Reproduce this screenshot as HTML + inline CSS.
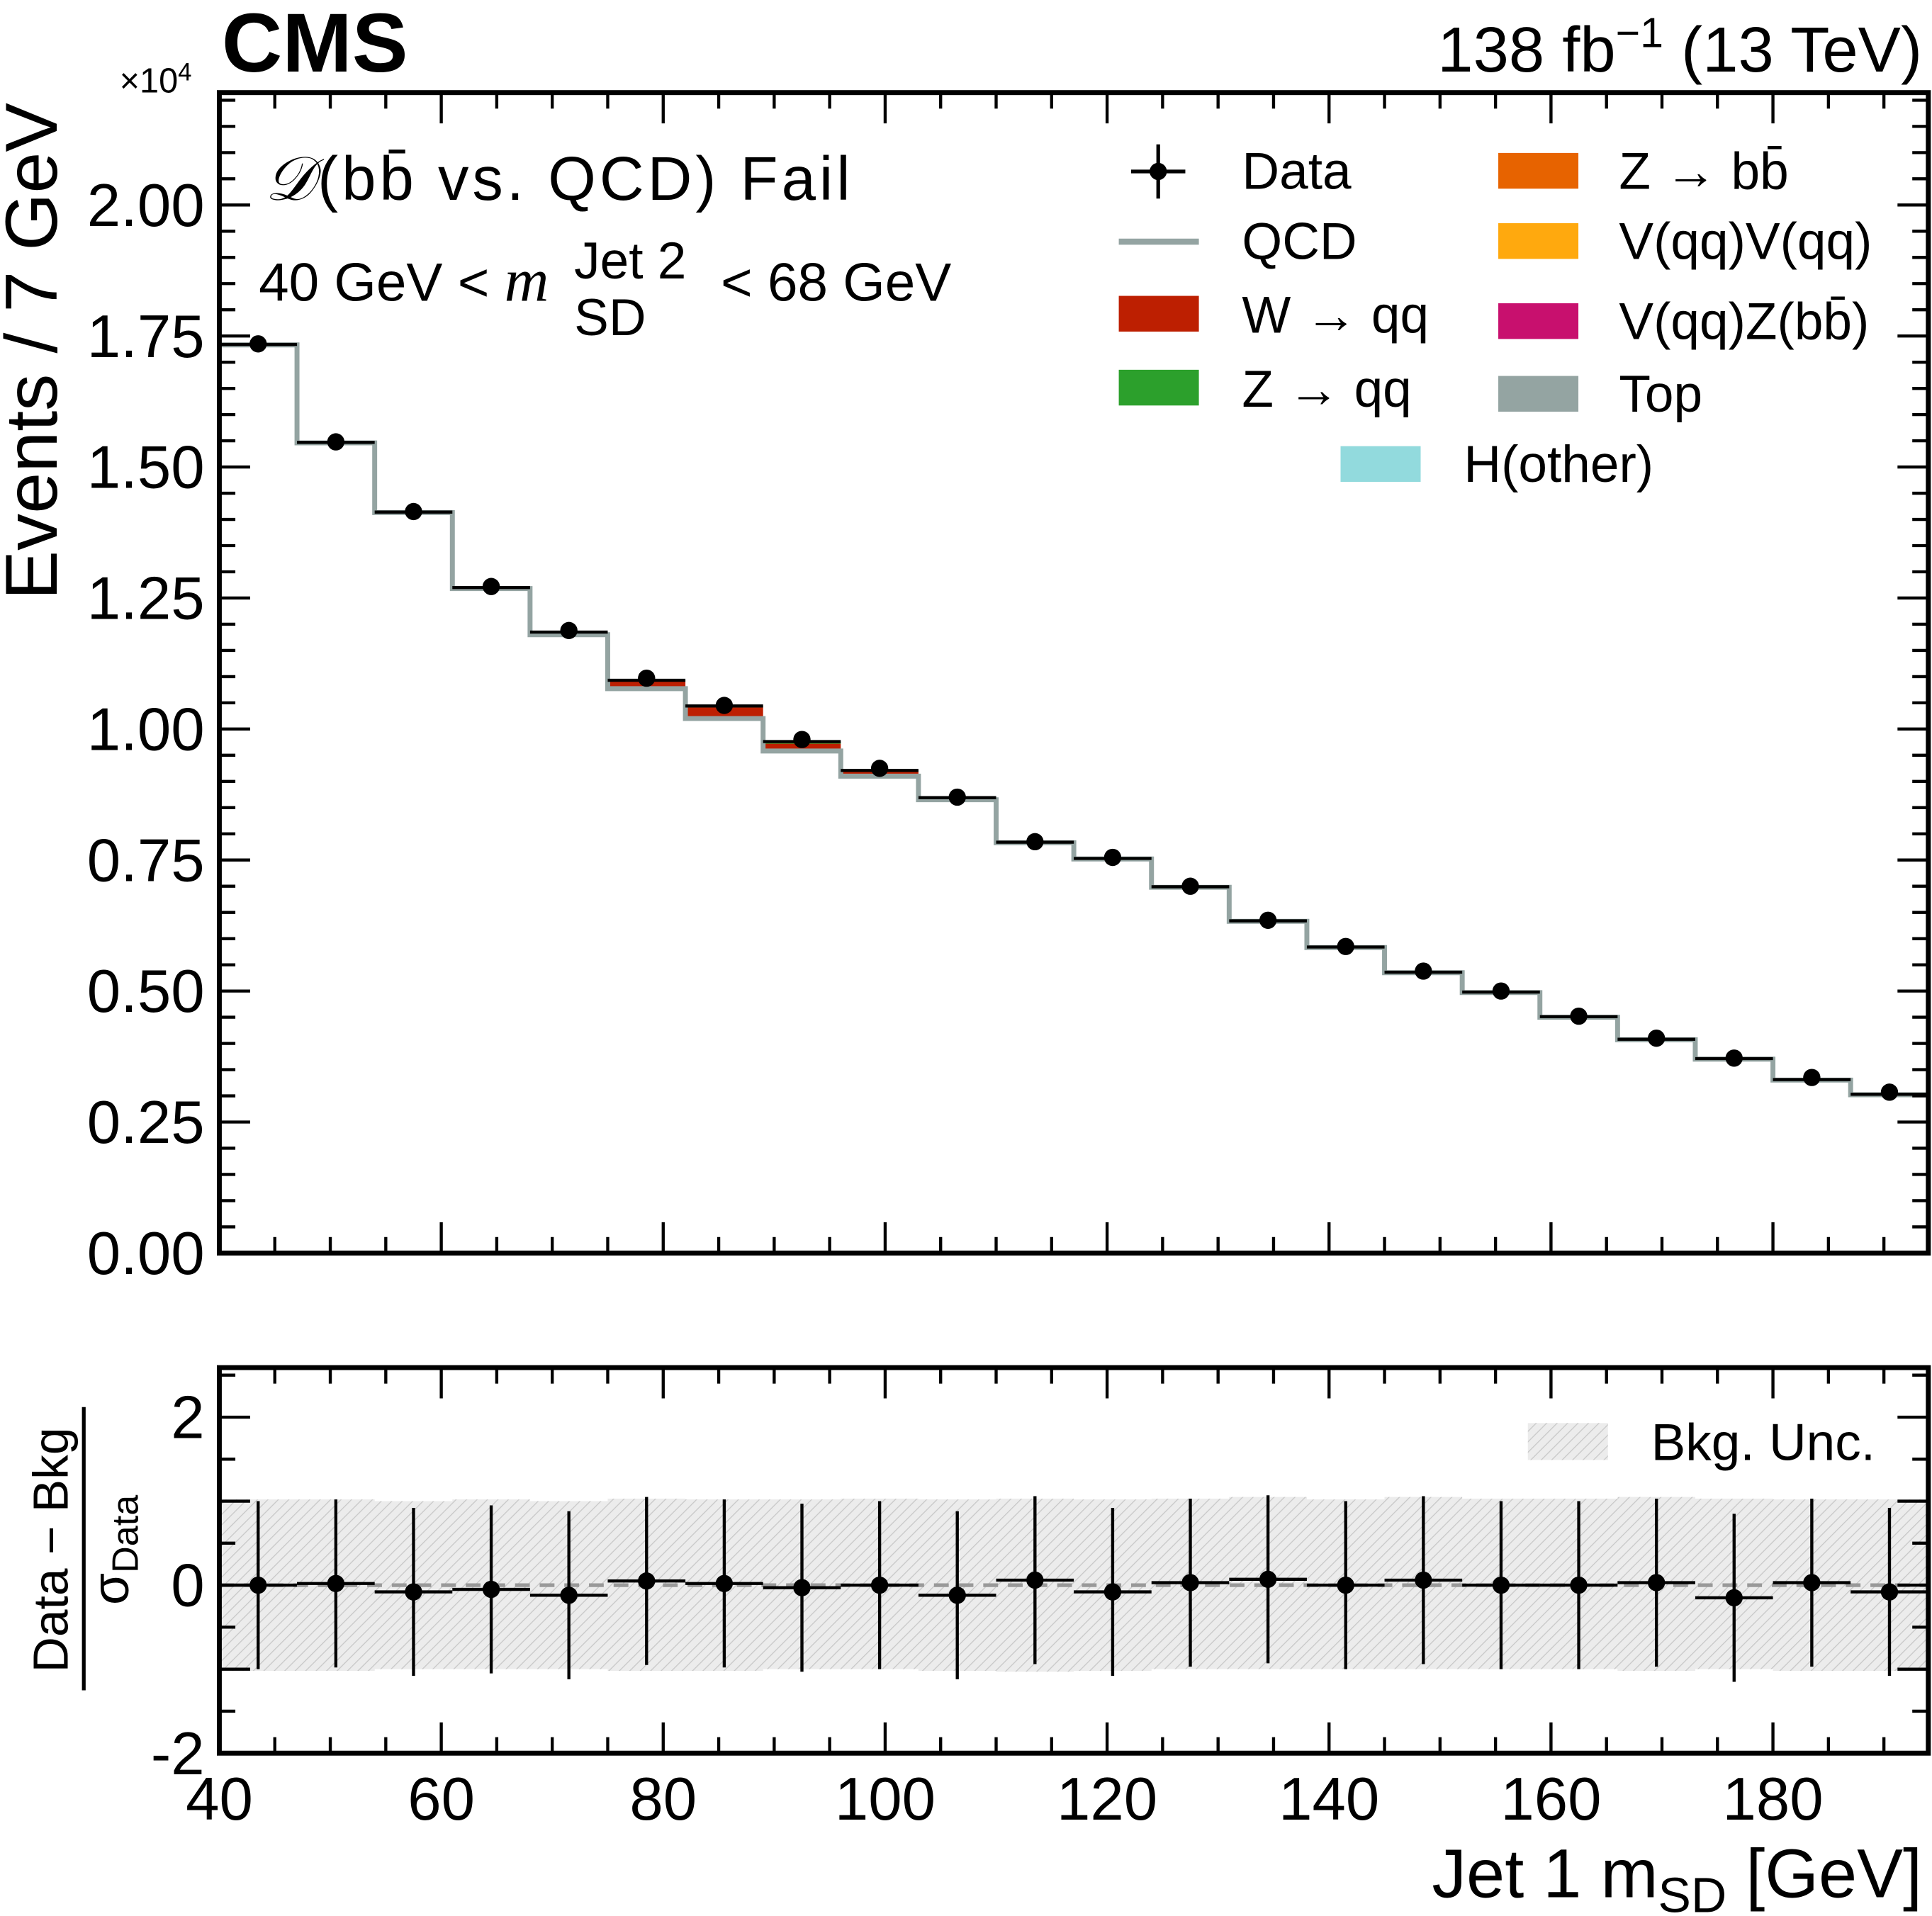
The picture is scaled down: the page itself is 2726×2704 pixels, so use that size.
<!DOCTYPE html>
<html><head><meta charset="utf-8"><style>
html,body{margin:0;padding:0;background:#fff}
svg{display:block;font-family:"Liberation Sans",sans-serif}
</style></head><body>
<svg id="chart" width="2726" height="2704" viewBox="0 0 1568 1555" xmlns="http://www.w3.org/2000/svg">
<defs>
<pattern id="hatch" patternUnits="userSpaceOnUse" width="6" height="6" patternTransform="rotate(45)">
<rect width="6" height="6" fill="#ececec"/><line x1="0" y1="0" x2="0" y2="6" stroke="#c8c8c8" stroke-width="1.5"/>
</pattern>
</defs>
<g id="main"></g>
<g id="ratio"></g>
<g id="txt">
<text x="180" y="58" font-size="68" font-weight="bold">CMS</text>
<text x="1560" y="58" font-size="52" text-anchor="end">138 fb<tspan font-size="34" dy="-20">−1</tspan><tspan dy="20"> (13 TeV)</tspan></text>
<text x="97" y="75" font-size="28">×10<tspan font-size="20" dy="-10">4</tspan></text>
<text x="215" y="162" font-size="50" textLength="475"><tspan font-family="Liberation Serif" font-style="italic">𝒟</tspan>(bb̄ vs. QCD) Fail</text>
<text x="210" y="244" font-size="44">40 GeV &lt; <tspan font-family="Liberation Serif" font-style="italic" font-size="50">m</tspan></text>
<text x="466" y="226" font-size="42">Jet 2</text>
<text x="466" y="272" font-size="42">SD</text>
<text x="585" y="244" font-size="44">&lt; 68 GeV</text>
<text transform="translate(46,285) rotate(-90)" font-size="60" text-anchor="middle">Events / 7 GeV</text>
<text x="1560" y="1540" font-size="56" text-anchor="end">Jet 1 m<tspan font-size="40" dy="12">SD</tspan><tspan dy="-12"> [GeV]</tspan></text>
<g>
<text transform="translate(55,1258) rotate(-90)" font-size="40" text-anchor="middle">Data − Bkg</text>
<line x1="68" y1="1142" x2="68" y2="1372" stroke="#000" stroke-width="3"/>
<text transform="translate(104,1258) rotate(-90)" font-size="42" text-anchor="middle">σ<tspan font-size="30" dy="8">Data</tspan></text>
</g>
</g>
<g id="legend">
<g><line x1="918" y1="139" x2="962" y2="139" stroke="#000" stroke-width="3"/><line x1="940" y1="117" x2="940" y2="161" stroke="#000" stroke-width="3"/><circle cx="940" cy="139" r="7"/><text x="1008" y="153" font-size="42">Data</text></g>
<g><line x1="908" y1="196" x2="973" y2="196" stroke="#94a4a2" stroke-width="5"/><text x="1008" y="210" font-size="42">QCD</text></g>
<g><rect x="908" y="240" width="65" height="29" fill="#bd1f01"/><text x="1008" y="270" font-size="42">W → qq</text></g>
<g><rect x="908" y="300" width="65" height="29" fill="#2ca02c"/><text x="1008" y="330" font-size="42">Z → qq</text></g>
<g><rect x="1216" y="124" width="65" height="29" fill="#e76300"/><text x="1314" y="153" font-size="42">Z → bb̄</text></g>
<g><rect x="1216" y="181" width="65" height="29" fill="#ffa90e"/><text x="1314" y="210" font-size="42">V(qq)V(qq)</text></g>
<g><rect x="1216" y="246" width="65" height="29" fill="#c8106e"/><text x="1314" y="275" font-size="42">V(qq)Z(bb̄)</text></g>
<g><rect x="1216" y="305" width="65" height="29" fill="#94a4a2"/><text x="1314" y="334" font-size="42">Top</text></g>
<g><rect x="1088" y="362" width="65" height="29" fill="#92dadd"/><text x="1188" y="391" font-size="42">H(other)</text></g>
<g><rect x="1240" y="1155" width="65" height="30" fill="url(#hatch)"/><text x="1340" y="1185" font-size="42">Bkg. Unc.</text></g>
</g>
</svg>
<script>
const binEdgesStart = 40, binWidth = 7, nBins = 22;
const dataVals = [1.735,1.548,1.415,1.272,1.188,1.097,1.045,0.980,0.925,0.870,0.785,0.755,0.700,0.635,0.585,0.538,0.500,0.452,0.410,0.372,0.335,0.307];
const qcdVals  = [1.733,1.546,1.413,1.268,1.180,1.077,1.020,0.958,0.910,0.865,0.783,0.752,0.698,0.633,0.583,0.535,0.497,0.450,0.407,0.370,0.330,0.302];
const wVals    = [0.001,0.001,0.001,0.002,0.004,0.014,0.021,0.014,0.008,0.003,0.001,0.001,0.001,0.001,0.001,0.001,0.001,0.001,0.001,0.001,0.001,0.001];
const zVals    = [0.000,0.000,0.000,0.000,0.001,0.002,0.003,0.004,0.003,0.001,0.000,0.000,0.000,0.000,0.000,0.000,0.000,0.000,0.000,0.000,0.000,0.000];
const pullVals = [0.00,0.02,-0.08,-0.05,-0.12,0.05,0.02,-0.03,0.00,-0.12,0.06,-0.08,0.03,0.07,0.00,0.06,0.00,0.00,0.03,-0.15,0.03,-0.08];
const uncUp    = [1.02,1.02,1.00,1.02,1.00,1.03,1.02,1.02,1.03,1.02,1.03,1.02,1.03,1.05,1.02,1.05,1.03,1.03,1.05,1.03,1.02,1.02];
const uncDn    = [-1.02,-1.02,-1.00,-1.00,-1.00,-1.02,-1.02,-1.00,-1.00,-1.02,-1.03,-1.02,-1.00,-1.00,-1.00,-1.00,-1.00,-1.00,-1.02,-1.00,-1.02,-1.02];
const yTicks = ["0.00","0.25","0.50","0.75","1.00","1.25","1.50","1.75","2.00"];
const xTicks = ["40","60","80","100","120","140","160","180"];
const rTicks = ["-2","0","2"];

const NS="http://www.w3.org/2000/svg";
const X0=178,X1=1565,XMIN=40,XMAX=194;
const sx=v=>X0+(v-XMIN)/(XMAX-XMIN)*(X1-X0);
const MT=75,MB=1017,YMAX=2.2145;
const sy=v=>MB-v/YMAX*(MB-MT);
const RT=1110,RB=1423,RMIN=-2,RMAX=2.59;
const ry=v=>RB-(v-RMIN)/(RMAX-RMIN)*(RB-RT);
function mk(p,t,a){const e=document.createElementNS(NS,t);for(const k in a)e.setAttribute(k,a[k]);p.appendChild(e);return e;}
const main=document.getElementById('main'), ratio=document.getElementById('ratio');

for(let i=0;i<nBins;i++){
  const xl=sx(binEdgesStart+i*binWidth), xr=sx(binEdgesStart+(i+1)*binWidth);
  const q=qcdVals[i], w=wVals[i], z=zVals[i];
  const r1=mk(main,'rect',{x:xl,y:sy(q+w),width:xr-xl,height:Math.max(0,sy(q)-sy(q+w)),fill:'#bd1f01'});
  
  
  const r2=mk(main,'rect',{x:xl,y:sy(q+w+z),width:xr-xl,height:Math.max(0,sy(q+w)-sy(q+w+z)),fill:'#2ca02c'});
  
  
}
let qd='';
for(let i=0;i<nBins;i++){
  const xl=sx(binEdgesStart+i*binWidth), xr=sx(binEdgesStart+(i+1)*binWidth);
  qd+=(i?'L':'M')+xl+','+sy(qcdVals[i])+'L'+xr+','+sy(qcdVals[i]);
}
const ql=mk(main,'path',{d:qd,fill:'none',stroke:'#94a4a2','stroke-width':4});


for(let i=0;i<nBins;i++){
  const xl=sx(binEdgesStart+i*binWidth), xr=sx(binEdgesStart+(i+1)*binWidth);
  const t=qcdVals[i]+wVals[i]+zVals[i];
  const l=mk(main,'line',{x1:xl,x2:xr,y1:sy(t),y2:sy(t),stroke:'#000','stroke-width':2.5});
  
  
}
for(let i=0;i<nBins;i++){
  const c=sx(binEdgesStart+(i+0.5)*binWidth);
  const p=mk(main,'circle',{cx:c,cy:sy(dataVals[i]),r:7,fill:'#000'});
  
  
}
mk(main,'rect',{x:X0,y:MT,width:X1-X0,height:MB-MT,fill:'none',stroke:'#000','stroke-width':4});
for(let k=0;k*0.05<=YMAX;k++){
  const v=k*0.05, maj=k%5===0, L=maj?25:13;
  mk(main,'line',{x1:X0,x2:X0+L,y1:sy(v),y2:sy(v),stroke:'#000','stroke-width':2.5});
  mk(main,'line',{x1:X1-L,x2:X1,y1:sy(v),y2:sy(v),stroke:'#000','stroke-width':2.5});
}
yTicks.forEach(s=>{const t=mk(main,'text',{x:166,y:sy(parseFloat(s))+17,'font-size':49,'text-anchor':'end'});t.textContent=s;
 
 });
function xticks(g,top,bot){
  for(let v=40;v<=XMAX;v+=5){const maj=v%20===0,L=maj?25:13;
    mk(g,'line',{x1:sx(v),x2:sx(v),y1:top,y2:top+L,stroke:'#000','stroke-width':2.5});
    mk(g,'line',{x1:sx(v),x2:sx(v),y1:bot-L,y2:bot,stroke:'#000','stroke-width':2.5});}
}
xticks(main,MT,MB);
let bd='M';
for(let i=0;i<nBins;i++){const xl=sx(binEdgesStart+i*binWidth),xr=sx(binEdgesStart+(i+1)*binWidth);bd+=xl+','+ry(uncUp[i])+'L'+xr+','+ry(uncUp[i])+'L';}
for(let i=nBins-1;i>=0;i--){const xl=sx(binEdgesStart+i*binWidth),xr=sx(binEdgesStart+(i+1)*binWidth);bd+=xr+','+ry(uncDn[i])+'L'+xl+','+ry(uncDn[i])+(i?'L':'Z');}
const band=mk(ratio,'path',{d:bd,fill:'url(#hatch)'});


mk(ratio,'line',{x1:X0,x2:X1,y1:ry(0),y2:ry(0),stroke:'#999','stroke-width':3,'stroke-dasharray':'12,8'});
for(let i=0;i<nBins;i++){
  const xl=sx(binEdgesStart+i*binWidth),xr=sx(binEdgesStart+(i+1)*binWidth),c=(xl+xr)/2,v=pullVals[i];
  mk(ratio,'line',{x1:xl,x2:xr,y1:ry(v),y2:ry(v),stroke:'#000','stroke-width':2.5});
  mk(ratio,'line',{x1:c,x2:c,y1:ry(v+1),y2:ry(v-1),stroke:'#000','stroke-width':2.5});
  const p=mk(ratio,'circle',{cx:c,cy:ry(v),r:7,fill:'#000'});
  
  
}
mk(ratio,'rect',{x:X0,y:RT,width:X1-X0,height:RB-RT,fill:'none',stroke:'#000','stroke-width':4});
for(let k=0;k<=9;k++){const v=-2+k*0.5,maj=k%2===0,L=maj?25:13;
  mk(ratio,'line',{x1:X0,x2:X0+L,y1:ry(v),y2:ry(v),stroke:'#000','stroke-width':2.5});
  mk(ratio,'line',{x1:X1-L,x2:X1,y1:ry(v),y2:ry(v),stroke:'#000','stroke-width':2.5});}
rTicks.forEach(s=>{const t=mk(ratio,'text',{x:166,y:ry(parseFloat(s))+17,'font-size':49,'text-anchor':'end'});t.textContent=s;
 
 });
xticks(ratio,RT,RB);
xTicks.forEach(s=>{const t=mk(ratio,'text',{x:sx(parseFloat(s)),y:1477,'font-size':49,'text-anchor':'middle'});t.textContent=s;
 
 });
</script>
</body></html>
